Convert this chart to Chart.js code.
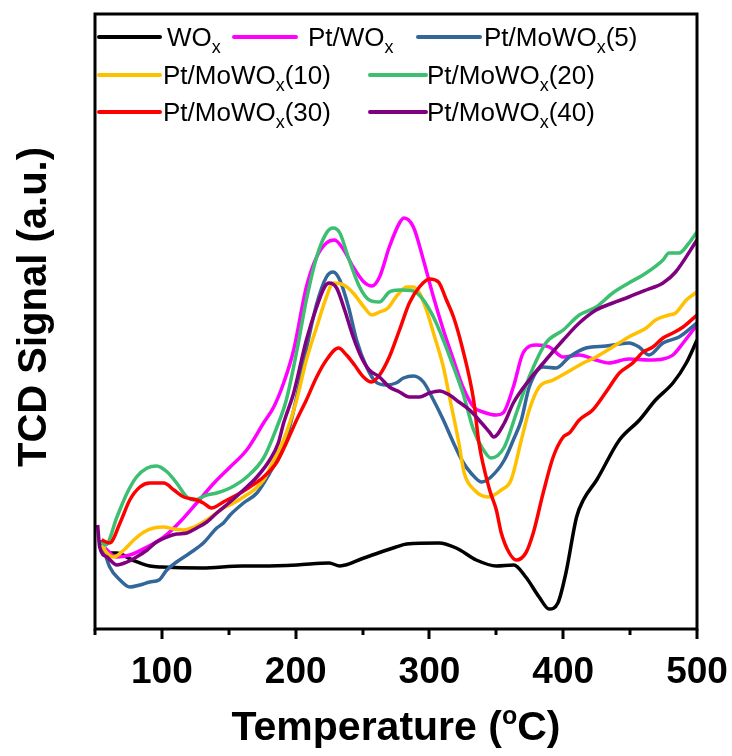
<!DOCTYPE html>
<html>
<head>
<meta charset="utf-8">
<script src="https://cdn.jsdelivr.net/npm/chart.js@4/dist/chart.umd.min.js"></script>
<style>
  html, body { margin: 0; padding: 0; background: #ffffff; }
  #wrap { width: 732px; height: 756px; }
</style>
</head>
<body>
<div id="wrap"><canvas id="tpr" width="732" height="756"></canvas></div>
<script>
// H2-TPR profiles: temperature (°C) and TCD signal (a.u.) for each sample
const seriesNames = ['WOx', 'Pt/WOx', 'Pt/MoWOx(5)', 'Pt/MoWOx(10)', 'Pt/MoWOx(20)', 'Pt/MoWOx(30)', 'Pt/MoWOx(40)'];

const woxT = [55, 66, 78, 91, 100, 130, 160, 175, 201, 225, 233, 251, 275, 283, 307, 320, 335, 350, 363, 372, 382, 389.5, 396, 402, 410, 415, 425, 442, 457, 469, 482, 492, 500];
const woxSignal = [0.76, 0.76, 0.69, 0.63, 0.62, 0.61, 0.63, 0.63, 0.64, 0.66, 0.63, 0.71, 0.82, 0.85, 0.86, 0.81, 0.69, 0.63, 0.64, 0.52, 0.32, 0.20, 0.26, 0.56, 1.12, 1.29, 1.49, 1.89, 2.09, 2.29, 2.46, 2.66, 2.89];

const ptWoxT = [57.5, 66, 76, 89, 101.5, 113.4, 126, 139, 151, 163.4, 176, 183.6, 191, 198.5, 208, 215.7, 223, 229, 236, 243, 251, 257, 262.7, 270, 277.6, 281, 288, 295.5, 303, 310.4, 318, 325, 333, 340, 350, 355, 362.7, 370, 380, 389.6, 400, 412, 424.6, 434, 449, 464, 474.6, 482, 489.6, 500];
const ptWoxSignal = [0.81, 0.72, 0.74, 0.82, 0.92, 1.07, 1.26, 1.46, 1.62, 1.79, 2.06, 2.22, 2.46, 2.79, 3.42, 3.72, 3.86, 3.89, 3.79, 3.62, 3.47, 3.43, 3.52, 3.82, 4.06, 4.11, 4.02, 3.69, 3.32, 2.99, 2.69, 2.42, 2.22, 2.17, 2.14, 2.16, 2.42, 2.76, 2.84, 2.82, 2.72, 2.74, 2.69, 2.66, 2.70, 2.69, 2.70, 2.74, 2.86, 3.04];

const mo5T = [54.5, 56.7, 61, 68.7, 76, 83.6, 91, 97.8, 103.7, 111, 121, 131, 141, 146, 151, 161, 171, 180.6, 187, 195, 202, 208, 215.7, 223, 228, 233, 239.5, 245.5, 253, 260, 268, 275, 280.6, 288, 295.5, 303, 310.4, 318, 325, 331, 339, 346, 356, 362.7, 368.7, 374.6, 385, 394.8, 404.5, 417, 432, 449, 456.7, 464, 474.6, 486.6, 500];
const mo5Signal = [0.89, 0.79, 0.62, 0.49, 0.42, 0.44, 0.47, 0.49, 0.59, 0.67, 0.76, 0.86, 1.01, 1.06, 1.14, 1.26, 1.36, 1.56, 1.72, 2.00, 2.40, 2.80, 3.25, 3.52, 3.57, 3.49, 3.22, 2.89, 2.62, 2.47, 2.44, 2.46, 2.51, 2.53, 2.47, 2.29, 2.09, 1.86, 1.67, 1.56, 1.47, 1.52, 1.69, 1.89, 2.09, 2.42, 2.62, 2.61, 2.72, 2.81, 2.83, 2.86, 2.82, 2.74, 2.86, 2.92, 3.06];

const mo10T = [55, 59, 64, 71.6, 79, 86.6, 94, 101.5, 109, 116.4, 124, 131, 139, 146, 153.7, 161, 168.7, 176, 183.6, 191, 200.7, 208, 215.7, 223, 228, 236, 243, 251, 257, 262.7, 269, 275, 283, 288, 292.5, 297.8, 303, 310.4, 315, 322, 326, 333.6, 344, 353.7, 361, 368.7, 374.6, 382, 392.5, 402, 415, 424.6, 437, 449, 462, 469, 479, 484, 492, 500];
const mo10Signal = [0.84, 0.76, 0.72, 0.79, 0.89, 0.97, 1.01, 1.02, 1.00, 0.99, 1.02, 1.07, 1.14, 1.21, 1.26, 1.32, 1.39, 1.49, 1.69, 1.89, 2.29, 2.69, 3.02, 3.32, 3.46, 3.44, 3.36, 3.22, 3.14, 3.17, 3.21, 3.32, 3.42, 3.42, 3.36, 3.19, 2.96, 2.62, 2.32, 1.86, 1.56, 1.39, 1.32, 1.39, 1.49, 1.89, 2.19, 2.42, 2.49, 2.56, 2.66, 2.72, 2.82, 2.92, 3.01, 3.09, 3.14, 3.16, 3.29, 3.37];

const mo20T = [55, 58, 66.4, 74, 81, 89, 96, 104, 111, 118.7, 124, 133.6, 141, 151, 163.4, 176, 186, 193, 200.7, 208, 215.7, 223, 228, 233, 240, 247.8, 255, 262.7, 270, 277.6, 288, 295.5, 303, 310.4, 318, 325, 333, 339, 346, 356, 365, 374.6, 387, 400, 412, 424.6, 437, 449, 462, 474.6, 479, 486.6, 494, 500];
const mo20Signal = [0.87, 0.84, 1.12, 1.36, 1.52, 1.61, 1.63, 1.57, 1.46, 1.32, 1.29, 1.34, 1.36, 1.41, 1.52, 1.71, 2.02, 2.29, 2.77, 3.29, 3.72, 3.96, 4.01, 3.96, 3.69, 3.42, 3.29, 3.27, 3.37, 3.39, 3.38, 3.29, 3.12, 2.89, 2.62, 2.36, 1.99, 1.82, 1.71, 1.82, 2.16, 2.52, 2.86, 2.99, 3.14, 3.22, 3.36, 3.46, 3.56, 3.69, 3.76, 3.76, 3.86, 3.97];

const mo30T = [55, 61, 68.7, 76, 83.6, 91, 101.5, 109, 116.4, 126, 131, 137, 146, 156, 165.7, 176, 186, 193, 200.7, 208, 215.7, 223, 232, 238, 244, 250.7, 256.7, 262.7, 270, 277.6, 285, 292.5, 300, 306.7, 312.7, 318, 325, 333, 337, 345, 350, 353.7, 359.7, 365, 372, 377.6, 385, 392.5, 400, 404.5, 412, 422, 432, 442, 452, 459.7, 467, 474.6, 482, 489.6, 500];
const mo30Signal = [0.89, 0.86, 1.06, 1.29, 1.42, 1.46, 1.46, 1.39, 1.32, 1.29, 1.26, 1.21, 1.27, 1.34, 1.42, 1.52, 1.67, 1.86, 2.09, 2.29, 2.52, 2.69, 2.81, 2.74, 2.64, 2.52, 2.47, 2.54, 2.72, 2.99, 3.26, 3.42, 3.50, 3.47, 3.29, 3.12, 2.79, 2.29, 1.86, 1.39, 1.19, 0.96, 0.76, 0.69, 0.76, 0.96, 1.36, 1.72, 1.92, 1.96, 2.09, 2.19, 2.37, 2.56, 2.66, 2.77, 2.82, 2.91, 2.96, 3.02, 3.14];

const mo40T = [52, 53.5, 59, 66.4, 74, 81, 89, 96, 103.7, 111, 118.7, 126, 133.6, 141, 151, 161, 171, 180.6, 187, 191, 198.5, 208, 215.7, 221.6, 225, 230.6, 236.6, 243, 249, 255, 262.7, 270, 277.6, 285, 292.5, 300, 307.5, 315, 322, 330, 337, 344.8, 348, 356, 362.7, 374.6, 387, 400, 412, 424.6, 437, 449, 462, 474.6, 484, 500];
const mo40Signal = [1.04, 0.82, 0.72, 0.64, 0.67, 0.72, 0.79, 0.87, 0.92, 0.95, 0.96, 1.01, 1.07, 1.16, 1.27, 1.39, 1.52, 1.69, 1.86, 2.06, 2.36, 2.89, 3.22, 3.42, 3.46, 3.41, 3.19, 2.92, 2.72, 2.59, 2.52, 2.42, 2.37, 2.32, 2.32, 2.36, 2.38, 2.34, 2.27, 2.19, 2.09, 1.97, 1.92, 2.06, 2.26, 2.49, 2.69, 2.89, 3.06, 3.19, 3.26, 3.32, 3.39, 3.46, 3.57, 3.89];

const xTickValues = [100, 200, 300, 400, 500];
const xMinorTickValues = [50, 150, 250, 350, 450];
const xTitle = 'Temperature (';
const xTitleSup = 'o';
const xTitleEnd = 'C)';
const yTitle = 'TCD Signal (a.u.)';

const seriesTemps = [woxT, ptWoxT, mo5T, mo10T, mo20T, mo30T, mo40T];
const seriesSignals = [woxSignal, ptWoxSignal, mo5Signal, mo10Signal, mo20Signal, mo30Signal, mo40Signal];

// line colours, one per sample
const lineColors = ['#000000', '#ff00ff', '#336699', '#ffc000', '#3cbf70', '#ff0000', '#800080'];

const FONT = "Arial, 'Liberation Sans', Helvetica, sans-serif";

// draws text where every "WOx" gets a subscript x
function drawLabel(ctx, text, x, y, size) {
  const parts = text.split('WOx');
  let cx = x;
  ctx.textBaseline = 'alphabetic';
  ctx.textAlign = 'left';
  parts.forEach((p, i) => {
    ctx.font = `${size}px ${FONT}`;
    ctx.fillText(p, cx, y);
    cx += ctx.measureText(p).width;
    if (i < parts.length - 1) {
      ctx.fillText('WO', cx, y);
      cx += ctx.measureText('WO').width;
      ctx.font = `${Math.round(size * 0.68)}px ${FONT}`;
      ctx.fillText('x', cx, y + size * 0.28);
      cx += ctx.measureText('x').width;
    }
  });
}

// frame, tick marks, legend and axis titles
const decorations = {
  id: 'decorations',
  afterDraw(chart) {
    const { ctx, chartArea: a, scales } = chart;
    const xs = scales.x;
    ctx.save();
    ctx.strokeStyle = '#000';
    ctx.lineWidth = 3;
    ctx.strokeRect(a.left, a.top, a.right - a.left, a.bottom - a.top);

    ctx.lineCap = 'butt';
    xTickValues.forEach(v => {
      const px = Math.round(xs.getPixelForValue(v));
      ctx.beginPath(); ctx.moveTo(px, a.bottom); ctx.lineTo(px, a.bottom + 10); ctx.stroke();
    });
    xMinorTickValues.forEach(v => {
      const px = Math.round(xs.getPixelForValue(v));
      ctx.beginPath(); ctx.moveTo(px, a.bottom); ctx.lineTo(px, a.bottom + 6); ctx.stroke();
    });

    // legend
    const rows = [
      [[0, 4, 65, 72], [1, 139, 201, 213], [2, 323, 385, 389]],
      [[3, 4, 65, 68], [4, 275, 331, 332]],
      [[5, 4, 65, 68], [6, 275, 331, 332]]
    ];
    const rowY = [23, 61, 98];
    rows.forEach((row, r) => {
      const y = a.top + rowY[r];
      row.forEach(([idx, l0, l1, tx]) => {
        ctx.strokeStyle = lineColors[idx];
        ctx.lineWidth = 4;
        ctx.lineCap = 'round';
        ctx.beginPath(); ctx.moveTo(a.left + l0, y); ctx.lineTo(a.left + l1, y); ctx.stroke();
        ctx.fillStyle = '#000';
        drawLabel(ctx, seriesNames[idx], a.left + tx, y + 9, 26);
      });
    });

    // x-axis title with superscript degree "o"
    ctx.fillStyle = '#000';
    ctx.textBaseline = 'alphabetic';
    ctx.textAlign = 'left';
    const bold = s => `bold ${s}px ${FONT}`;
    const tSize = 41;
    ctx.font = bold(tSize);
    const w1 = ctx.measureText(xTitle).width;
    const w3 = ctx.measureText(xTitleEnd).width;
    ctx.font = bold(Math.round(tSize * 0.62));
    const w2 = ctx.measureText(xTitleSup).width;
    const total = w1 + w2 + w3;
    let cx = (a.left + a.right) / 2 - total / 2;
    const by = 740;
    ctx.font = bold(tSize);
    ctx.fillText(xTitle, cx, by); cx += w1;
    ctx.font = bold(Math.round(tSize * 0.62));
    ctx.fillText(xTitleSup, cx, by - tSize * 0.38); cx += w2;
    ctx.font = bold(tSize);
    ctx.fillText(xTitleEnd, cx, by);

    // y-axis title
    ctx.save();
    ctx.translate(46, 307);
    ctx.rotate(-Math.PI / 2);
    ctx.textAlign = 'center';
    ctx.font = bold(40);
    ctx.fillText(yTitle, 0, 0);
    ctx.restore();
    ctx.restore();
  }
};

new Chart(document.getElementById('tpr'), {
  type: 'line',
  data: {
    datasets: seriesNames.map((name, i) => ({
      label: name,
      data: seriesTemps[i].map((t, j) => ({ x: t, y: seriesSignals[i][j] })),
      borderColor: lineColors[i],
      borderWidth: 3.5,
      pointRadius: 0,
      fill: false,
      cubicInterpolationMode: 'monotone',
      order: seriesNames.length - i
    }))
  },
  options: {
    responsive: false,
    animation: false,
    devicePixelRatio: 1,
    layout: { padding: { left: 95, right: 35, top: 14, bottom: 0 } },
    plugins: { legend: { display: false }, tooltip: { enabled: false } },
    scales: {
      x: {
        type: 'linear',
        min: 50,
        max: 500,
        afterBuildTicks: s => { s.ticks = xTickValues.map(v => ({ value: v })); },
        afterFit: s => { s.height = 127; s.paddingLeft = 0; s.paddingRight = 0; },
        grid: { display: false },
        border: { display: false },
        ticks: {
          color: '#000',
          font: { family: FONT, size: 37, weight: 'bold' },
          padding: 14,
          maxRotation: 0,
          autoSkip: false
        }
      },
      y: { display: false, min: 0, max: 6.15 }
    }
  },
  plugins: [decorations]
});
</script>
</body>
</html>
